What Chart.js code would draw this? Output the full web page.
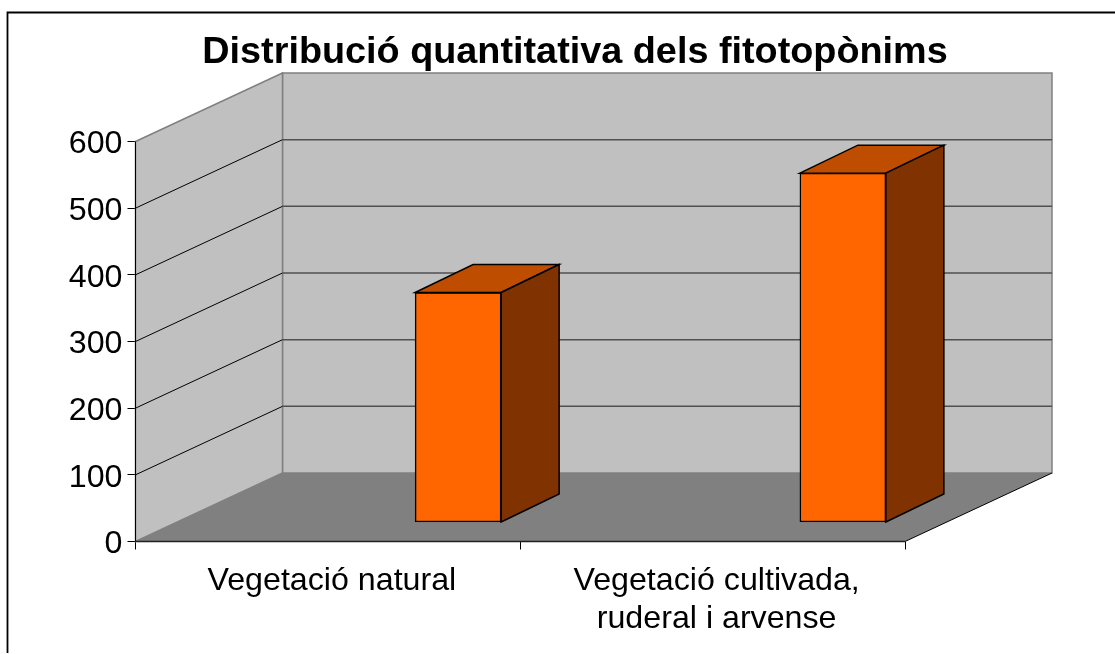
<!DOCTYPE html>
<html>
<head>
<meta charset="utf-8">
<title>Distribució quantitativa dels fitotopònims</title>
<script src="https://cdn.jsdelivr.net/npm/chart.js@4"></script>
<style>
    html, body { margin: 0; padding: 0; background: #fff; overflow: hidden; }
    #chart { display: block; }
</style>
</head>
<body>
<canvas id="chart" width="1115" height="654"></canvas>
<script>
// Data
const categories = ['Vegetació natural', ['Vegetació cultivada,', 'ruderal i arvense']];
const counts = [345, 524];
const yTicks = [0, 100, 200, 300, 400, 500, 600];
const chartTitle = 'Distribució quantitativa dels fitotopònims';

// Oblique offsets of the fake 3D: back wall and bars relative to the front plane
const wallDepth = { x: 147, y: -68.5 };
const barShift = { x: 130.25, y: -19 };
const barDepth = { x: 58, y: -28 };

function poly(ctx, pts, fill, stroke, width) {
    ctx.beginPath();
    pts.forEach((p, i) => i ? ctx.lineTo(p[0], p[1]) : ctx.moveTo(p[0], p[1]));
    ctx.closePath();
    if (fill) {
        ctx.fillStyle = fill;
        ctx.fill();
    }
    if (stroke) {
        ctx.strokeStyle = stroke;
        ctx.lineWidth = width || 1;
        ctx.stroke();
    }
}

function line(ctx, x1, y1, x2, y2, color, width) {
    ctx.beginPath();
    ctx.moveTo(x1, y1);
    ctx.lineTo(x2, y2);
    ctx.strokeStyle = color;
    ctx.lineWidth = width || 1;
    ctx.stroke();
}

// Frame, title, walls and floor go behind the bars
const walls = {
    id: 'walls',
    beforeDatasetsDraw(chart) {
        const ctx = chart.ctx;
        const a = chart.chartArea;
        const dx = wallDepth.x, dy = wallDepth.y;
        ctx.save();

        // only top and left sides of the frame are in the picture
        ctx.beginPath();
        ctx.moveTo(7.5, 653);
        ctx.lineTo(7.5, 12.5);
        ctx.lineTo(1115, 12.5);
        ctx.strokeStyle = '#000';
        ctx.lineWidth = 1.8;
        ctx.stroke();

        ctx.fillStyle = '#000';
        ctx.font = 'bold 37.8px "Liberation Sans"';
        ctx.textAlign = 'center';
        ctx.textBaseline = 'alphabetic';
        ctx.fillText(chartTitle, 575, 62.5);

        poly(ctx, [[a.left + dx, a.top + dy], [a.right + dx, a.top + dy], [a.right + dx, a.bottom + dy], [a.left + dx, a.bottom + dy]], '#c0c0c0', '#808080', 1.5);
        poly(ctx, [[a.left, a.top], [a.left + dx, a.top + dy], [a.left + dx, a.bottom + dy], [a.left, a.bottom]], '#c0c0c0', '#808080', 1.5);
        poly(ctx, [[a.left, a.bottom], [a.left + dx, a.bottom + dy], [a.right + dx, a.bottom + dy], [a.right, a.bottom]], '#808080');

        const y = chart.scales.y;
        yTicks.forEach(v => {
            if (v === 0 || v === 600) return;
            const py = y.getPixelForValue(v);
            line(ctx, a.left, py, a.left + dx, py + dy, '#000', 1);
            line(ctx, a.left + dx, py + dy, a.right + dx, py + dy, '#505050', 1.5);
        });

        // edges of the floor and the front axis
        line(ctx, a.right, a.bottom, a.right + dx, a.bottom + dy, '#000', 1);
        line(ctx, a.left, a.bottom, a.right, a.bottom, '#202020', 1.5);
        line(ctx, a.left, a.top, a.left, a.bottom, '#000', 1);
        ctx.restore();
    },
    // move the bars back inside the box
    beforeDatasetDraw(chart) {
        chart.ctx.save();
        chart.ctx.translate(barShift.x, barShift.y);
    },
    afterDatasetDraw(chart, args) {
        const ctx = chart.ctx;
        const dx = barDepth.x, dy = barDepth.y;
        args.meta.data.forEach(bar => {
            const p = bar.getProps(['x', 'y', 'base', 'width'], true);
            const l = p.x - p.width / 2, r = p.x + p.width / 2;
            poly(ctx, [[l, p.y], [l + dx, p.y + dy], [r + dx, p.y + dy], [r, p.y]], '#bf4d00', '#000', 1.5);
            poly(ctx, [[r, p.y], [r + dx, p.y + dy], [r + dx, p.base + dy], [r, p.base]], '#803300', '#000', 1.5);
        });
        ctx.restore();
    }
};

new Chart(document.getElementById('chart').getContext('2d'), {
    type: 'bar',
    data: {
        labels: categories,
        datasets: [{
            data: counts,
            backgroundColor: '#ff6600',
            borderColor: '#000',
            borderWidth: 1.5,
            borderSkipped: false,
            barThickness: 86
        }]
    },
    options: {
        responsive: false,
        animation: false,
        layout: { padding: { top: 141.5, right: 210, left: 0, bottom: 0 } },
        plugins: { legend: { display: false }, tooltip: { enabled: false } },
        scales: {
            x: {
                grid: { drawOnChartArea: false, color: '#000', tickLength: 8 },
                border: { display: false },
                ticks: {
                    color: '#000',
                    padding: 12,
                    labelOffset: 4,
                    maxRotation: 0,
                    font: { family: '"Liberation Sans"', size: 32.2, lineHeight: 1.2 }
                },
                afterFit(scale) { scale.height = 112.5; }
            },
            y: {
                min: 0,
                max: 600,
                afterBuildTicks(scale) { scale.ticks = yTicks.map(v => ({ value: v })); },
                grid: { drawOnChartArea: false, color: '#000', tickLength: 8 },
                border: { display: false },
                ticks: {
                    color: '#000',
                    padding: 5,
                    labelOffset: 3,
                    font: { family: '"Liberation Sans"', size: 32.2 }
                },
                afterFit(scale) { scale.width = 135.5; }
            }
        }
    },
    plugins: [walls]
});
</script>
</body>
</html>
